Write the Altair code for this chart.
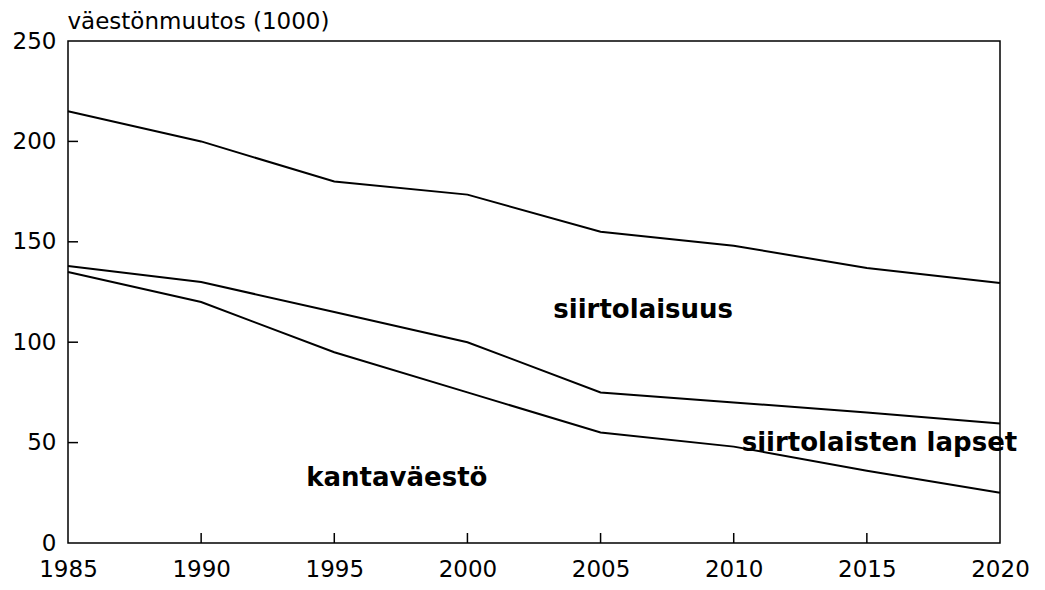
import altair as alt
import pandas as pd

# ---- data ----
years = [1985, 1990, 1995, 2000, 2005, 2010, 2015, 2020]
total_pop = [215, 200, 180, 173.5, 155, 148, 137, 129.5]          # top line
children_line = [138, 130, 115, 100, 75, 70, 65, 59.5]           # middle line
native_line = [135, 120, 95, 75, 55, 48, 36, 25]                 # bottom line

y_ticks = [0, 50, 100, 150, 200, 250]
x_ticks = [1985, 1990, 1995, 2000, 2005, 2010, 2015, 2020]

label_texts = ["siirtolaisuus", "siirtolaisten lapset", "kantaväestö"]
label_years = [2006.6, 2010.3, 1997.35]
label_values = [112, 45.6, 28.3]
label_align = ["center", "left", "center"]

FONT = "DejaVu Sans"
W, H = 932, 502
X0, X1 = 1985, 2020
Y0, Y1 = 0, 250
TICK_PX = 10

rows = []
for name, vals in [("total", total_pop), ("children", children_line), ("native", native_line)]:
    for yr, v in zip(years, vals):
        rows.append({"year": yr, "value": v, "series": name})
df = pd.DataFrame(rows)

x_scale = alt.Scale(domain=[X0, X1], nice=False, zero=False)
y_scale = alt.Scale(domain=[Y0, Y1], nice=False)

lines = alt.Chart(df).mark_line(color="black", strokeWidth=2).encode(
    x=alt.X("year:Q", scale=x_scale,
            axis=alt.Axis(values=x_ticks, format="d", title=None, grid=False,
                          domain=False, tickSize=0, labelPadding=15, labelFlush=False,
                          labelFontSize=23, labelColor="black", labelFont=FONT)),
    y=alt.Y("value:Q", scale=y_scale,
            axis=alt.Axis(values=y_ticks, title="väestönmuutos (1000)", grid=False,
                          domain=False, tickSize=0, labelPadding=12, labelFlush=False,
                          labelFontSize=23, labelColor="black", labelFont=FONT,
                          titleAngle=0, titleAlign="left", titleBaseline="alphabetic",
                          titleX=-1, titleY=-13, titleFontSize=23,
                          titleFontWeight="normal", titleColor="black", titleFont=FONT)),
    detail="series:N",
)

# inward tick marks (length TICK_PX pixels, expressed in data units)
x_tick_len = (X1 - X0) * TICK_PX / W
y_tick_len = (Y1 - Y0) * TICK_PX / H

ytick_df = pd.DataFrame({"v": y_ticks[1:-1]})
yticks = alt.Chart(ytick_df).mark_rule(color="black", strokeWidth=1.5).encode(
    y=alt.Y("v:Q", scale=y_scale),
    x=alt.datum(X0, scale=x_scale),
    x2=alt.datum(X0 + x_tick_len),
)

xtick_df = pd.DataFrame({"t": x_ticks[1:-1]})
xticks = alt.Chart(xtick_df).mark_rule(color="black", strokeWidth=1.5).encode(
    x=alt.X("t:Q", scale=x_scale),
    y=alt.datum(Y0, scale=y_scale),
    y2=alt.datum(Y0 + y_tick_len),
)

lab_df = pd.DataFrame({"text": label_texts, "year": label_years,
                       "value": label_values, "align": label_align})
labels_c = alt.Chart(lab_df[lab_df["align"] == "center"]).mark_text(
    font=FONT, fontSize=26, fontWeight="bold", color="black",
    align="center", baseline="alphabetic"
).encode(x=alt.X("year:Q", scale=x_scale), y=alt.Y("value:Q", scale=y_scale), text="text:N")
labels_l = alt.Chart(lab_df[lab_df["align"] == "left"]).mark_text(
    font=FONT, fontSize=26, fontWeight="bold", color="black",
    align="left", baseline="alphabetic"
).encode(x=alt.X("year:Q", scale=x_scale), y=alt.Y("value:Q", scale=y_scale), text="text:N")

chart = alt.layer(lines, yticks, xticks, labels_c, labels_l).properties(
    width=W, height=H,
    autosize=alt.AutoSizeParams(type="none"),
    padding={"left": 60, "top": 33, "right": 37, "bottom": 39},
).configure(
    background="white"
).configure_view(
    stroke="black", strokeWidth=1.5
)

chart.save("out.html", embed_options={"renderer": "svg", "actions": False})
